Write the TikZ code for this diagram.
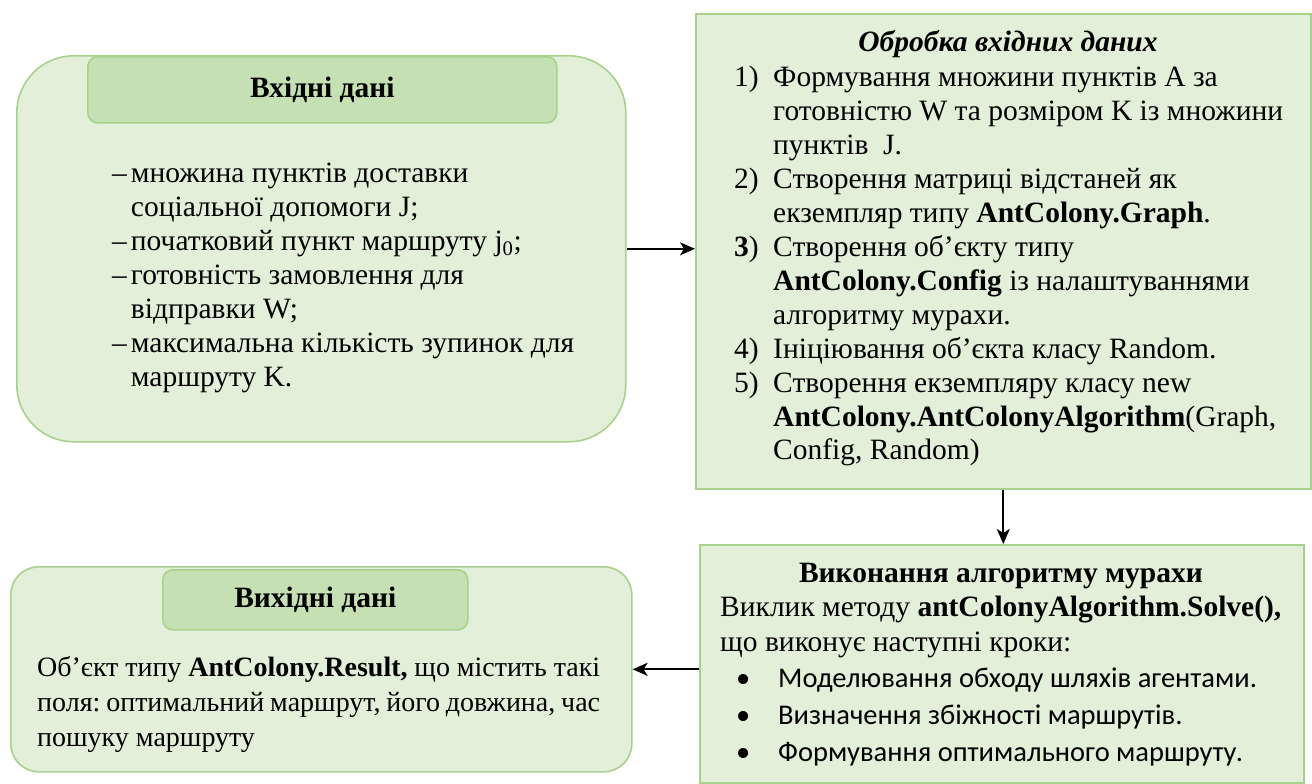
\documentclass[tikz,border=0pt]{standalone}
\usepackage{fontspec}
\setmainfont{Liberation Serif}
\newfontfamily\bulletfont{Carlito}
\usetikzlibrary{arrows.meta}
\definecolor{boxfill}{HTML}{E2EFD9}
\definecolor{boxline}{HTML}{A9D18E}
\definecolor{headfill}{HTML}{C5E0B3}
\newcommand\diagtext{\fontsize{29.5}{34}\selectfont}
\newcommand\itemmark[1]{\makebox[39pt][l]{#1}}
\newcommand\fullline[1]{\makebox[563pt][s]{#1}}
\frenchspacing

\begin{document}
\begin{tikzpicture}[x=1pt,y=-1pt,
  panel/.style={draw=boxline, fill=boxfill, line width=1.6pt, inner sep=0pt, anchor=north west},
  header/.style={draw=boxline, fill=headfill, line width=1.6pt, rounded corners=10pt,
                 inner sep=0pt, anchor=north west, font=\diagtext\bfseries},
  body/.style={inner sep=0pt, anchor=base west, font=\diagtext},
  link/.style={line width=2pt, -{Stealth[length=15pt,width=13pt,inset=4pt]}}]

\useasboundingbox (0,0) rectangle (1312,784);

% input data panel
\node (inbox) [panel, rounded corners=57pt, minimum width=609pt, minimum height=386pt] at (16,55) {};
\node (inhead) [header, minimum width=469pt, minimum height=66pt] at (87,56) {Вхідні дані};
\node (inlist) [body] at (112,182) {%
  \begin{tabular}[t]{@{}l@{\hspace{4pt}}l@{}}
  –& множина пунктів доставки\\
   & соціальної допомоги J;\\
  –& початковий пункт маршруту j\textsubscript{0};\\
  –& готовність замовлення для\\
   & відправки W;\\
  –& максимальна кількість зупинок для\\
   & маршруту K.
  \end{tabular}};

% preprocessing panel
\node (proc) [panel, minimum width=615pt, minimum height=475pt] at (695,13) {};
\node (proctitle) [body, anchor=base] at (1008,52) {\textbf{\textit{Обробка вхідних даних}}};
\node (proclist) [body] at (734,86) {%
  \begin{tabular}[t]{@{}l@{}l@{}}
  \itemmark{1)}& Формування множини пунктів A за\\
   & готовністю W та розміром K із множини\\
   & пунктів\ \ J.\\
  \itemmark{2)}& Створення матриці відстаней як\\
   & екземпляр типу \textbf{AntColony.Graph}.\\
  \itemmark{\textbf{3})}& Створення об’єкту типу\\
   & \textbf{AntColony.Config} із налаштуваннями\\
   & алгоритму мурахи.\\
  \itemmark{4)}& Ініціювання об’єкта класу Random.\\
  \itemmark{5)}& Створення екземпляру класу new\\
   & \textbf{AntColony.AntColonyAlgorithm}(Graph,\\
   & Config, Random)
  \end{tabular}};

% algorithm run panel
\node (exec) [panel, minimum width=604pt, minimum height=238pt] at (699,544) {};
\node (exectitle) [body, anchor=base] at (1001,582) {\textbf{Виконання алгоритму мурахи}};
\node (execcall) [body] at (720,616) {%
  \begin{tabular}[t]{@{}l@{}}
  Виклик методу \textbf{antColonyAlgorithm.Solve(),}\\[1pt]
  що виконує наступні кроки:
  \end{tabular}};
\node (execsteps) [body, font=\bulletfont\fontsize{28.5}{37}\selectfont] at (736,687) {%
  \begin{tabular}[t]{@{}l@{}l@{}}
  \makebox[42pt][l]{•}& Моделювання обходу шляхів агентами.\\
  \makebox[42pt][l]{•}& Визначення збіжності маршрутів.\\
  \makebox[42pt][l]{•}& Формування оптимального маршруту.
  \end{tabular}};

% output data panel
\node (outbox) [panel, rounded corners=28pt, minimum width=621pt, minimum height=205pt] at (10,566) {};
\node (outhead) [header, minimum width=305pt, minimum height=60pt] at (162,569) {Вихідні дані};
\node (outtext) [body, font=\fontsize{28}{35}\selectfont] at (37,676) {%
  \begin{tabular}[t]{@{}l@{}}
  \fullline{Об’єкт типу \textbf{AntColony.Result,} що містить такі}\\
  \fullline{поля: оптимальний маршрут, його довжина, час}\\
  пошуку маршруту
  \end{tabular}};

% connectors
\draw[link] (inbox.east) -- (inbox.east -| proc.west);
\draw[link] (proc.south) -- (proc.south |- exec.north);
\draw[link] (exec.west |- outbox.east) -- (outbox.east);
\end{tikzpicture}
\end{document}
